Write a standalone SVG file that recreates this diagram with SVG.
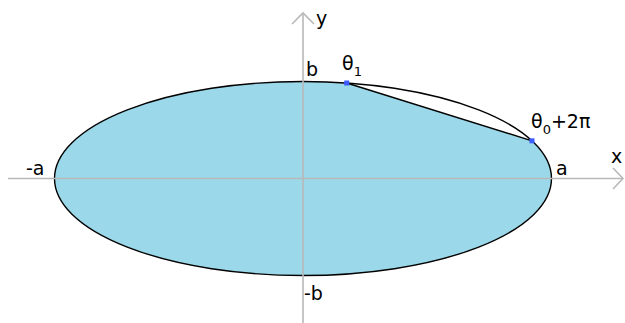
<svg xmlns="http://www.w3.org/2000/svg" width="625" height="323" viewBox="0 0 625 323">
<style>
.lbl{font-family:"DejaVu Sans",Verdana,sans-serif;font-size:19px;fill:#000}
.sub{font-size:13px}
.axis{stroke:#b8b8b8;stroke-width:1.6;fill:none}
.pt{fill:#3d5cff}
</style>
<rect width="625" height="323" fill="#fff"/>
<g id="ellipse">
<path d="M346.7,83 L532,140.8 A248.5,97 0 1 1 346.7,83 Z" fill="#9bd8e9"/>
<ellipse cx="303" cy="178.5" rx="248.5" ry="97" fill="none" stroke="#000" stroke-width="1.4"/>
<line x1="346.7" y1="83" x2="532" y2="140.8" stroke="#000" stroke-width="1.4"/>
</g>
<g id="axes">
<line class="axis" x1="8" y1="178.5" x2="623" y2="178.5"/>
<polyline class="axis" points="613,168 623,178.5 613,189"/>
<line class="axis" x1="303" y1="13" x2="303" y2="323"/>
<polyline class="axis" points="292,24 303,13 314,24"/>
</g>
<g id="points">
<rect class="pt" x="344.2" y="80.5" width="5" height="5"/>
<rect class="pt" x="529.5" y="138.3" width="5" height="5"/>
</g>
<g id="labels">
<text class="lbl" x="316" y="25">y</text>
<text class="lbl" x="611" y="163">x</text>
<text class="lbl" x="306" y="76">b</text>
<text class="lbl" x="556" y="175">a</text>
<text class="lbl" x="26" y="175">-a</text>
<text class="lbl" x="304" y="300">-b</text>
<text class="lbl" x="342" y="70">θ<tspan class="sub" dy="6">1</tspan></text>
<text class="lbl" x="531" y="128">θ<tspan class="sub" dy="6">0</tspan><tspan dy="-6">+2π</tspan></text>
</g>
</svg>
